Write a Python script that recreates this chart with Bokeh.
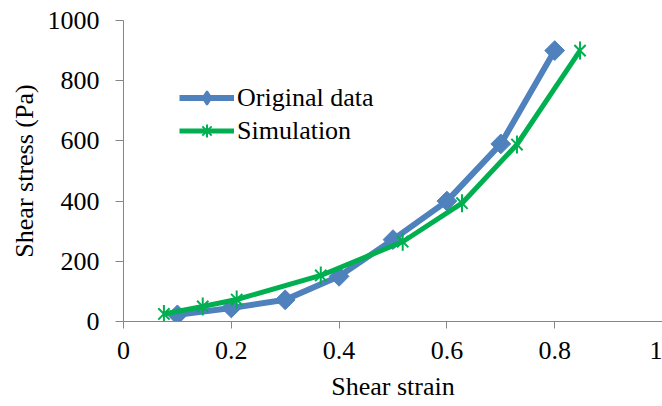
import numpy as np
from bokeh.plotting import figure
from bokeh.models import (FixedTicker, NumeralTickFormatter, Legend, LegendItem,
                          ColumnDataSource, Range1d)
from bokeh.embed import file_html
from bokeh.resources import INLINE

# ---- data ----
orig_strain = [0.10, 0.20, 0.30, 0.40, 0.50, 0.60, 0.70, 0.80]
orig_stress = [22, 45, 72, 150, 272, 400, 590, 900]
sim_strain = [0.075, 0.147, 0.21, 0.366, 0.518, 0.628, 0.73, 0.847]
sim_stress = [25, 50, 73, 153, 265, 393, 588, 900]
x_ticks = [0, 0.2, 0.4, 0.6, 0.8, 1.0]
y_ticks = [0, 200, 400, 600, 800, 1000]
series_names = ["Original data", "Simulation"]

FONT = "Liberation Serif"
BLUE = "#4F81BD"
GREEN = "#00B050"
AXIS = "#868686"

p = figure(width=662, height=406, output_backend="svg", toolbar_location=None,
           x_range=Range1d(0, 1.0), y_range=Range1d(0, 1000),
           min_border_left=123, min_border_right=0, min_border_top=20,
           min_border_bottom=85)
p.outline_line_color = None
p.xgrid.visible = False
p.ygrid.visible = False
p.background_fill_color = "white"
p.border_fill_color = "white"

for ax in (p.xaxis[0], p.yaxis[0]):
    ax.axis_line_color = AXIS
    ax.major_tick_line_color = AXIS
    ax.minor_tick_line_color = None
    ax.major_tick_in = 0
    ax.major_label_text_font = FONT
    ax.major_label_text_font_size = "26px"
    ax.major_label_text_color = "black"
    ax.axis_label_text_font = FONT
    ax.axis_label_text_font_size = "26px"
    ax.axis_label_text_font_style = "normal"
    ax.axis_label_text_color = "black"

p.xaxis.ticker = FixedTicker(ticks=x_ticks)
p.yaxis.ticker = FixedTicker(ticks=y_ticks)
p.xaxis.formatter = NumeralTickFormatter(format="0.[0]")
p.yaxis.formatter = NumeralTickFormatter(format="0")
p.xaxis.major_tick_out = 7
p.yaxis.major_tick_out = 8
p.xaxis.major_label_standoff = 13
p.yaxis.major_label_standoff = 16
p.xaxis.axis_label = "Shear strain"
p.yaxis.axis_label = "Shear stress (Pa)"
p.xaxis.axis_label_standoff = 10
p.yaxis.axis_label_standoff = 6

src_o = ColumnDataSource(dict(x=orig_strain, y=orig_stress))
src_s = ColumnDataSource(dict(x=sim_strain, y=sim_stress))

l1 = p.line("x", "y", source=src_o, line_color=BLUE, line_width=6)
# tiny legend-only diamond (legend glyphs are never rotated); hidden under the markers
m1_leg = p.scatter("x", "y", source=src_o, marker="diamond", size=1,
                   fill_color=BLUE, line_color=BLUE, line_width=2)
m1 = p.scatter("x", "y", source=src_o, marker="square", size=14, angle=np.pi / 4,
               fill_color=BLUE, line_color=BLUE)
l2 = p.line("x", "y", source=src_s, line_color=GREEN, line_width=5)
# tiny legend-only asterisk, hidden under the green line
m2_leg = p.scatter("x", "y", source=src_s, marker="asterisk", size=1,
                   line_color=GREEN, line_width=2)
m2a = p.scatter("x", "y", source=src_s, marker="x", size=16,
                line_color=GREEN, line_width=2)
m2b = p.scatter("x", "y", source=src_s, marker="dash", size=18, angle=np.pi / 2,
                line_color=GREEN, line_width=2)

legend = Legend(items=[LegendItem(label=series_names[0], renderers=[l1, m1_leg]),
                       LegendItem(label=series_names[1], renderers=[l2, m2_leg])],
                location=(56, 174), orientation="vertical")
legend.label_text_font = FONT
legend.label_text_font_size = "26px"
legend.label_text_color = "black"
legend.glyph_width = 55
legend.glyph_height = 33
legend.spacing = 0
legend.label_standoff = 3
legend.padding = 0
legend.margin = 0
legend.border_line_color = None
legend.background_fill_alpha = 0
p.add_layout(legend, "center")

open("out.html", "w").write(file_html(p, INLINE))
